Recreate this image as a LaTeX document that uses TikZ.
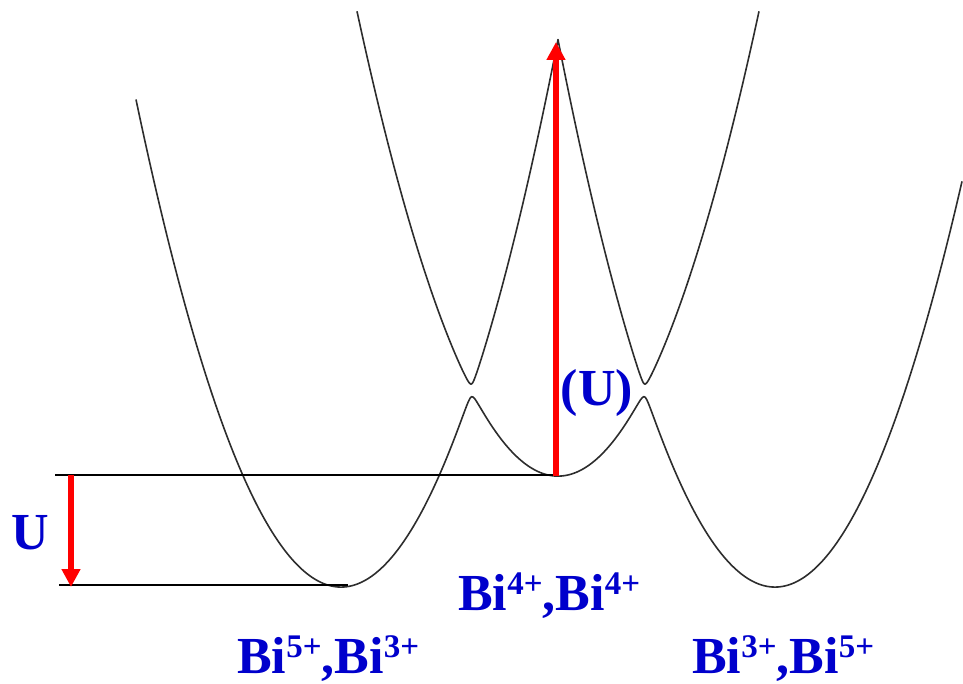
\documentclass[tikz,border=0pt]{standalone}
\usepackage{fontspec}
\setmainfont{Liberation Serif}
\usetikzlibrary{arrows.meta}
\definecolor{lblblue}{RGB}{0,0,204}
\definecolor{curvegray}{RGB}{45,45,45}
\newcommand{\chg}[1]{\raisebox{15.5pt}{\fontsize{33}{33}\selectfont #1}}
\begin{document}
\begin{tikzpicture}[x=1pt,y=-1pt,
  curve/.style={draw=curvegray,line width=1.6pt,line join=round},
  level/.style={draw=black,line width=1.6pt},
  redarrow/.style={draw=red,line width=5.8pt,-{Triangle[width=18pt,length=18pt]}},
  lbl/.style={text=lblblue,font=\fontsize{52}{52}\selectfont\bfseries,inner sep=0pt}]
\useasboundingbox (0,0) rectangle (963,684);
% lower adiabatic curve
\draw[curve]
  plot[domain=136:558,samples=260,variable=\x]
   (\x,{((587-1.16*((\x-341)/10)^2)+(476-1.15*((\x-558)/10)^2))/2
        +10*sqrt((((587-1.16*((\x-341)/10)^2)-(476-1.15*((\x-558)/10)^2))/20)^2+0.49)})
  -- plot[domain=558:962,samples=260,variable=\x]
   (\x,{((587-1.16*((\x-775)/10)^2)+(476-1.15*((\x-558)/10)^2))/2
        +10*sqrt((((587-1.16*((\x-775)/10)^2)-(476-1.15*((\x-558)/10)^2))/20)^2+0.49)});
% upper adiabatic curve
\draw[curve]
  plot[domain=357:558,samples=260,variable=\x]
   (\x,{((579-1.2*((\x-346)/10)^2)+(476-1.15*((\x-558)/10)^2))/2
        -10*sqrt((((579-1.2*((\x-346)/10)^2)-(476-1.15*((\x-558)/10)^2))/20)^2+0.36)})
  -- plot[domain=558:759,samples=260,variable=\x]
   (\x,{((579-1.2*((\x-770)/10)^2)+(476-1.15*((\x-558)/10)^2))/2
        -10*sqrt((((579-1.2*((\x-770)/10)^2)-(476-1.15*((\x-558)/10)^2))/20)^2+0.36)});
% levels
\coordinate (topL) at (55,475);
\coordinate (midmin) at (554,475);
\coordinate (botL) at (59,585);
\coordinate (botR) at (348,585);
\draw[level] (topL) -- (midmin);
\draw[level] (botL) -- (botR);
% arrows
\coordinate (uTop) at (71,475);
\coordinate (uBot) at (71,587);
\coordinate (peakStart) at (556,476);
\coordinate (peak) at (556,42);
\draw[redarrow] (uTop) -- (uBot);
\draw[redarrow] (peakStart) -- (peak);
% labels
\node[lbl,anchor=base] (Ulbl) at (30,549) {U};
\node[lbl,anchor=base] (Upar) at (597,405) {(U)};
\node[lbl,anchor=base west] (mid) at (458,610) {Bi\chg{4+},Bi\chg{4+}};
\node[lbl,anchor=base west] (left) at (237,673) {Bi\chg{5+},Bi\chg{3+}};
\node[lbl,anchor=base west] (right) at (692,673) {Bi\chg{3+},Bi\chg{5+}};
\end{tikzpicture}
\end{document}
